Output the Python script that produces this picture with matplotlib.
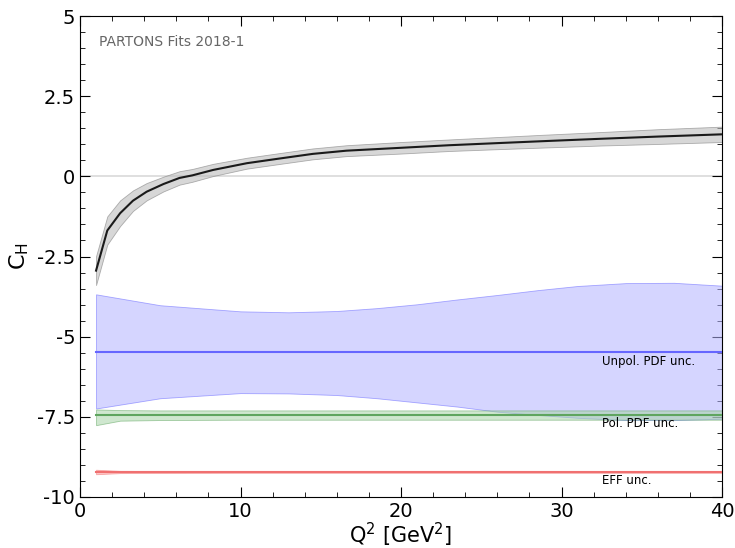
import numpy as np
import matplotlib
matplotlib.use("Agg")
import matplotlib.pyplot as plt
from matplotlib.ticker import MultipleLocator, FuncFormatter

plt.rcParams['axes.unicode_minus'] = False
plt.rcParams['font.family'] = ['DejaVu Sans']

# Q^2 grid of the fit and the CH values
q2 = [1, 1.7, 2.5, 3.3, 4.15, 5.2, 6.2, 7, 8.3, 10.4, 12.5, 14.5, 16.6, 20, 23, 26.2, 29, 32.4, 36, 40]
ch = [-2.94, -1.69, -1.15, -0.76, -0.48, -0.24, -0.05, 0.03, 0.2, 0.41, 0.56, 0.7, 0.8, 0.89, 0.97, 1.04, 1.1, 1.17, 1.24, 1.31]
ch_err = [0.45, 0.44, 0.4, 0.32, 0.27, 0.23, 0.21, 0.2, 0.19, 0.17, 0.17, 0.17, 0.17, 0.18, 0.18, 0.19, 0.2, 0.21, 0.23, 0.24]

# uncertainty bands, drawn with offsets so they fit inside one panel
q2_unpol = [1, 5, 10, 13, 16, 18.5, 21, 23.5, 26, 28.5, 31, 34, 37, 40]
unpol_center = -5.49
unpol_up = [1.81, 1.47, 1.28, 1.25, 1.29, 1.38, 1.5, 1.65, 1.79, 1.94, 2.07, 2.16, 2.17, 2.08]
unpol_down = [1.75, 1.43, 1.27, 1.28, 1.33, 1.43, 1.56, 1.69, 1.85, 1.95, 2.04, 2.11, 2.11, 2.07]

q2_pol = [1, 2.5, 5, 10, 20, 30, 40]
pol_center = -7.45
pol_up = [0.18, 0.16, 0.15, 0.15, 0.15, 0.15, 0.15]
pol_down = [0.31, 0.17, 0.15, 0.14, 0.14, 0.14, 0.14]

q2_eff = [1, 2.5, 5, 10, 20, 30, 40]
eff_center = -9.22
eff_up = [0.07, 0.035, 0.03, 0.025, 0.025, 0.025, 0.025]
eff_down = [0.07, 0.035, 0.03, 0.025, 0.025, 0.025, 0.025]

fig = plt.figure(figsize=(7.35, 5.48), dpi=100)
ax = fig.add_axes([80 / 735, 51 / 548, 642 / 735, 481 / 548])

ax.axhline(0, color='#d9d9d9', lw=1.2, zorder=1)

q2 = np.array(q2)
ch = np.array(ch)
ch_err = np.array(ch_err)
ax.fill_between(q2, ch - ch_err, ch + ch_err, color='#bdbdbd', alpha=0.6,
                edgecolor='#808080', lw=0.6, zorder=2)
ax.plot(q2, ch, color='#1a1a1a', lw=1.5, zorder=3)

bands = [
    (q2_unpol, unpol_center, unpol_up, unpol_down, '#b3b3ff', '#6666ff', 'Unpol. PDF unc.'),
    (q2_pol, pol_center, pol_up, pol_down, '#a8d4a8', '#5fa55f', 'Pol. PDF unc.'),
    (q2_eff, eff_center, eff_up, eff_down, '#ff9a9a', '#f07070', 'EFF unc.'),
]
for x, center, up, down, fc, lc, label in bands:
    x = np.array(x)
    ax.fill_between(x, center - np.array(down), center + np.array(up), color=fc,
                    alpha=0.55, edgecolor=lc, lw=0.6, zorder=2)
    ax.plot(x, np.full(len(x), center), color=lc, lw=1.5, zorder=3)
    ax.text(32.5, center - 0.27, label, fontsize=8.5, va='center', ha='left', zorder=4)

ax.text(1.2, 4.05, 'PARTONS Fits 2018-1', fontsize=10, color='#666666')

ax.set_xlim(0, 40)
ax.set_ylim(-10, 5)
ax.xaxis.set_major_locator(MultipleLocator(10))
ax.xaxis.set_minor_locator(MultipleLocator(2))
ax.yaxis.set_major_locator(MultipleLocator(2.5))
ax.yaxis.set_minor_locator(MultipleLocator(0.5))
ax.yaxis.set_major_formatter(FuncFormatter(lambda v, p: ('%g' % v)))
ax.tick_params(which='both', direction='in', top=True, right=True, labelsize=14)
ax.tick_params(which='major', length=7)
ax.tick_params(which='minor', length=3.5)

ax.set_xlabel('Q$^2$ [GeV$^2$]', fontsize=15, labelpad=0)
ax.set_ylabel('C$_\\mathrm{H}$', fontsize=16)

fig.savefig('out.png', dpi=100)
